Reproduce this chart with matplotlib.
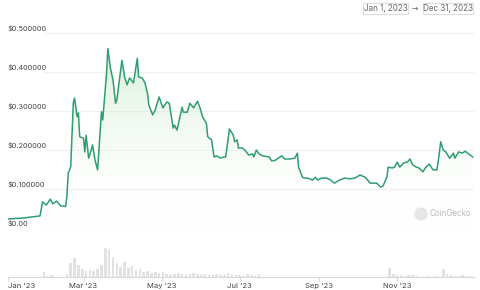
import matplotlib
matplotlib.use("Agg")
import matplotlib.pyplot as plt
import numpy as np
from matplotlib.patches import FancyBboxPatch, Ellipse

# price points (day of 2023, USD)
days = [0, 13, 25, 27, 30, 33, 35, 38, 41, 45, 46, 47, 49, 51, 52, 54, 55, 56,
        59, 60, 61, 63, 65, 66, 68, 70, 73, 74, 77, 78, 80, 82, 84, 85, 89, 90,
        91, 93, 95, 98, 101, 102, 105, 107, 109, 110, 113, 115, 118, 121, 124,
        126, 129, 130, 132, 136, 137, 140, 142, 145, 148, 150, 152, 155, 156,
        159, 161, 163, 166, 168, 170, 173, 176, 177, 179, 180, 183, 185, 188,
        191, 192, 194, 196, 199, 204, 206, 209, 211, 214, 216, 220, 224, 226,
        227, 230, 232, 234, 238, 240, 242, 245, 249, 252, 255, 259, 263, 267,
        271, 275, 279, 283, 288, 291, 293, 296, 297, 300, 302, 304, 306, 309,
        312, 314, 316, 319, 321, 324, 326, 329, 332, 335, 336, 338, 340, 342,
        345, 348, 349, 352, 355, 357, 359, 363]
prices = [0.023, 0.026, 0.031, 0.067, 0.059, 0.074, 0.062, 0.069, 0.057, 0.055,
          0.080, 0.140, 0.157, 0.320, 0.333, 0.285, 0.295, 0.234, 0.230, 0.195,
          0.238, 0.179, 0.200, 0.213, 0.174, 0.149, 0.298, 0.277, 0.397, 0.460,
          0.410, 0.380, 0.320, 0.328, 0.430, 0.410, 0.388, 0.367, 0.385, 0.372,
          0.435, 0.388, 0.384, 0.372, 0.345, 0.315, 0.290, 0.303, 0.336, 0.308,
          0.323, 0.320, 0.256, 0.264, 0.251, 0.310, 0.297, 0.297, 0.320, 0.308,
          0.325, 0.308, 0.285, 0.268, 0.234, 0.226, 0.182, 0.185, 0.179, 0.182,
          0.182, 0.254, 0.238, 0.221, 0.226, 0.205, 0.205, 0.200, 0.187, 0.190,
          0.182, 0.200, 0.190, 0.185, 0.182, 0.172, 0.174, 0.179, 0.185, 0.177,
          0.177, 0.179, 0.192, 0.156, 0.130, 0.128, 0.128, 0.123, 0.130, 0.123,
          0.128, 0.128, 0.123, 0.115, 0.123, 0.128, 0.126, 0.128, 0.136, 0.130,
          0.115, 0.115, 0.105, 0.108, 0.131, 0.156, 0.154, 0.156, 0.169, 0.156,
          0.167, 0.169, 0.177, 0.162, 0.156, 0.154, 0.144, 0.154, 0.164, 0.149,
          0.149, 0.169, 0.221, 0.200, 0.195, 0.179, 0.192, 0.179, 0.195, 0.192,
          0.197, 0.192, 0.182]

# volume, one value every 3 days (relative)
volume = [0.5, 0.5, 0.5, 0.5, 0.5, 0.5, 0.5, 0.5, 0.5, 5, 1, 2, 0.5, 0.5, 0.5,
          3, 14, 19, 12, 8, 6, 7, 6, 8, 12, 29, 28, 20, 14, 10, 15, 9, 11, 7,
          8, 5, 6, 4, 5, 4, 5, 3, 2, 3, 4, 3, 2, 3, 4, 3, 2, 3, 2, 2, 3, 2, 2,
          4, 3, 2, 2, 1, 3, 2, 1, 3, 0.5, 0.5, 0.5, 0.5, 0.5, 0.5, 0.5, 0.5,
          0.5, 0.5, 0.5, 0.5, 0.5, 0.5, 0.5, 0.5, 0.5, 0.5, 0.5, 0.5, 0.5, 0.5,
          0.5, 0.5, 0.5, 0.5, 0.5, 0.5, 0.5, 0.5, 0.5, 0.5, 0.5, 9, 3, 2, 2, 1,
          2, 2, 1, 0.5, 0.5, 1, 0.5, 1, 0.5, 8, 3, 2, 1, 1, 2, 1, 1, 1]

yticks = [0, 0.1, 0.2, 0.3, 0.4, 0.5]
ylabels = ["$0.00", "$0.100000", "$0.200000", "$0.300000", "$0.400000", "$0.500000"]
month_days = [0, 59, 120, 181, 243, 304]
month_labels = ["Jan '23", "Mar '23", "May '23", "Jul '23", "Sep '23", "Nov '23"]

green = "#2f9d72"
font = "Inter"

fig = plt.figure(figsize=(4.8, 2.9), dpi=100)
fig.patch.set_facecolor("white")

# price panel
ax = fig.add_axes([8/480, 1-228/290, 466/480, 195/290])
ax.set_xlim(0, 364)
ax.set_ylim(0, 0.5)
ax.axis("off")

x = np.array(days)
y = np.array(prices)

# gradient fill under the line
grad = np.linspace(0, 1, 256).reshape(-1, 1)
cmap = matplotlib.colors.LinearSegmentedColormap.from_list(
    "g", [(1, 1, 1, 0), (0.80, 0.92, 0.80, 0.75)])
img = ax.imshow(grad, extent=[0, 364, 0, 0.46], origin="lower", aspect="auto",
                cmap=cmap, zorder=1)
poly = ax.fill_between(x, y, 0, color="none")
clip = poly.get_paths()[0]
img.set_clip_path(clip, transform=ax.transData)
ax.set_xlim(0, 364)
ax.set_ylim(0, 0.5)

for t, lab in zip(yticks, ylabels):
    ax.axhline(t, xmin=0.079, xmax=1, color="#efefef", lw=0.8, zorder=0)
    ax.text(0, t + 0.004, lab, fontsize=5.3, color="#444444", family=font,
            ha="left", va="bottom", zorder=3)

ax.plot(x, y, color=green, lw=1.1, zorder=2, solid_joinstyle="round")

# watermark
fig.patches.append(Ellipse((421/480, 1-214/290), 12/480, 12/290,
                           transform=fig.transFigure, color="#e6e6e6"))
fig.text(430/480, 1-213.5/290, "CoinGecko", fontsize=5.8, color="#bbbbbb",
         family=font, ha="left", va="center")

# volume panel
axv = fig.add_axes([8/480, 1-277/290, 466/480, 29/290])
vdays = np.arange(len(volume)) * 3
axv.bar(vdays, volume, width=2.0, color="#e2e2e2", align="edge")
axv.set_xlim(0, 364)
axv.set_ylim(0, 29)
for s in ["top", "right", "left"]:
    axv.spines[s].set_visible(False)
axv.spines["bottom"].set_color("#d9d9d9")
axv.spines["bottom"].set_linewidth(0.8)
axv.set_yticks([])
axv.set_xticks(month_days)
axv.set_xticklabels(month_labels, fontsize=5.5, color="#444444", family=font)
axv.tick_params(axis="x", length=3, color="#d9d9d9", pad=1.5)
axv.get_xticklabels()[0].set_ha("left")

# date range boxes
def date_box(xc, w, txt):
    fig.patches.append(FancyBboxPatch((xc - w/2, 1-14/290), w, 11/290,
                                      boxstyle="square,pad=0", transform=fig.transFigure,
                                      fc="white", ec="#dddddd", lw=0.8))
    fig.text(xc, 1-8.5/290, txt, fontsize=5.8, color="#666666", family=font,
             ha="center", va="center")

date_box(385.5/480, 45/480, "Jan 1, 2023")
date_box(448/480, 50/480, "Dec 31, 2023")
fig.text(415/480, 1-8.5/290, "→", fontsize=5.5, color="#666666",
         ha="center", va="center")

fig.savefig("out.png", dpi=100, facecolor="white")
